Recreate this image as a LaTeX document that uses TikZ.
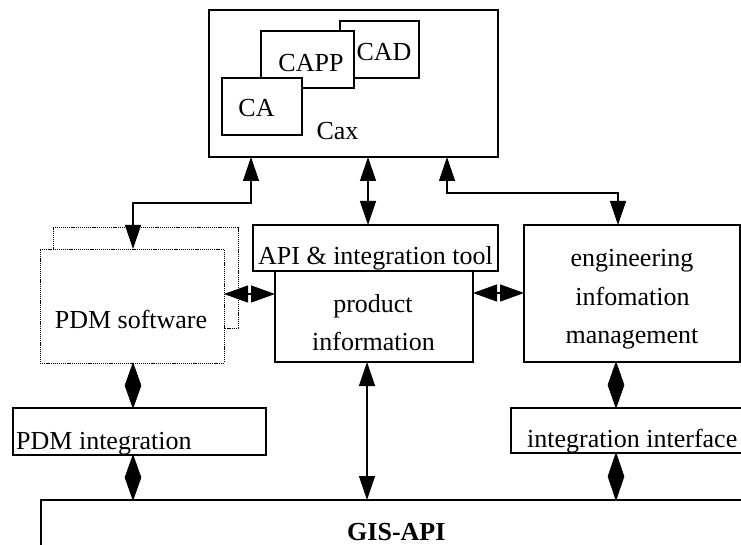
\documentclass[tikz,border=0pt]{standalone}
\usepackage{fontspec}
\setmainfont{Liberation Serif}
\usetikzlibrary{arrows.meta,fit,calc}
\tikzset{
  box/.style={draw, line width=1.6pt, fill=white, inner sep=0pt, outer sep=0pt},
  dotbox/.style={draw, line width=0.9pt, dash pattern=on 1.2pt off 0.9pt, fill=white, inner sep=0pt, outer sep=0pt},
  txt/.style={anchor=base, inner sep=0pt, font=\fontsize{26}{30}\selectfont},
  txtw/.style={anchor=base west, inner sep=0pt, font=\fontsize{26}{30}\selectfont},
  conn/.style={line width=1.3pt, {Triangle[length=24pt,width=16pt]}-{Triangle[length=24pt,width=16pt]}},
  dline/.style={line width=1.3pt},
  dfill/.style={fill=black, draw=black, line width=0.6pt, line join=miter},
  hconn/.style={line width=1.3pt, {Triangle[length=24pt,width=17pt]}-{Triangle[length=24pt,width=17pt]}}
}
% vertical diamond double arrow between two coordinates
\newcommand\dmconn[2]{%
  \draw[dline] (#1) -- (#2);
  \fill[dfill] (#1) -- ($($(#1)!0.5!(#2)$)+(8,0)$) -- (#2) -- ($($(#1)!0.5!(#2)$)+(-8,0)$) -- cycle;
}
\begin{document}
\begin{tikzpicture}[x=1pt,y=-1pt]
\useasboundingbox (0,0) rectangle (741,545);
\clip (0,0) rectangle (741,545);
% Cax group
\node[box, fit={(209,10) (498,157)}] (cax) {};
\node[box, fit={(340,21) (419,78)}] (cad) {};
\node[box, fit={(261,31) (354,88)}] (capp) {};
\node[box, fit={(222,78) (302,135)}] (ca) {};
\node[txt] (cadt) at (384,61) {CAD};
\node[txt] (cappt) at (311,72) {CAPP};
\node[txt] (cat) at (256.5,117) {CA};
\node[txt] (caxt) at (337.5,140) {Cax};
% PDM software
\node[dotbox, fit={(53,227) (238,328)}] (pdmback) {};
\node[dotbox, fit={(40,249) (224,363)}] (pdm) {};
\node[txt] (pdmt) at (131,328) {PDM software};
% API and product info
\node[box, fit={(253,225) (498,271)}] (api) {};
\node[txt] (apit) at (375.5,265) {API \& integration tool};
\node[box, fit={(275,271) (473,362)}] (prod) {};
\node[txt] (prodt1) at (373,312) {product};
\node[txt] (prodt2) at (373.5,350) {information};
% engineering
\node[box, fit={(524,225) (740,362)}] (eng) {};
\node[txt] (engt1) at (632,266) {engineering};
\node[txt] (engt2) at (632.5,305) {infomation};
\node[txt] (engt3) at (632,343) {management};
% lower boxes
\node[box, fit={(13,408) (266,455)}] (pdmint) {};
\node[txtw] (pdmintt) at (16,449) {PDM integration};
\node[box, fit={(511,408) (770,453)}] (intif) {};
\node[txtw] (intift) at (527,447) {integration interface};
\node[box, fit={(41,500) (780,580)}] (gis) {};
\node[txtw, font=\fontsize{26}{30}\selectfont\bfseries] (gist) at (347,540) {GIS-API};
% connectors
\draw[conn] (251,0 |- cax.south) -- (251,203) -- (133,203) -- (133,0 |- pdm.north);
\draw[conn] (368,0 |- cax.south) -- (368,0 |- api.north);
\draw[conn] (447,0 |- cax.south) -- (447,193) -- (618,193) -- (618,0 |- eng.north);
\draw[hconn] (pdm.east |- 0,294) -- (prod.west |- 0,294);
\draw[hconn] (prod.east |- 0,293) -- (eng.west |- 0,293);
\draw[conn] (367,0 |- prod.south) -- (367,0 |- gis.north);
\coordinate (d1a) at (133,0 |- pdm.south);
\coordinate (d1b) at (133,0 |- pdmint.north);
\coordinate (d2a) at (133,0 |- pdmint.south);
\coordinate (d2b) at (133,0 |- gis.north);
\coordinate (d3a) at (616,0 |- eng.south);
\coordinate (d3b) at (616,0 |- intif.north);
\coordinate (d4a) at (616,0 |- intif.south);
\coordinate (d4b) at (616,0 |- gis.north);
\dmconn{d1a}{d1b}
\dmconn{d2a}{d2b}
\dmconn{d3a}{d3b}
\dmconn{d4a}{d4b}
\end{tikzpicture}
\end{document}
